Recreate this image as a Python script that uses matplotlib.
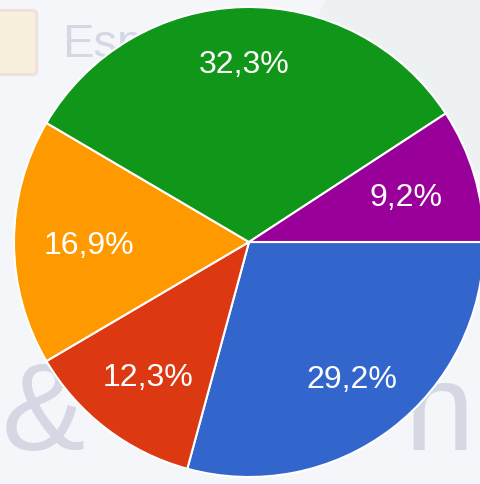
import matplotlib
matplotlib.use('Agg')
import matplotlib.pyplot as plt
from matplotlib.patches import FancyBboxPatch
import numpy as np

# slice data, clockwise from 3 o'clock
labels = ['29,2%', '12,3%', '16,9%', '32,3%', '9,2%']
values = [29.2, 12.3, 16.9, 32.3, 9.2]
colors = ['#3366cc', '#dc3912', '#ff9900', '#109618', '#990099']
# how far out each label sits (fraction of radius)
label_dist = [0.72, 0.71, 0.68, 0.77, 0.70]

W, H = 481, 484
cx, cy, r = 249, 242, 235  # pie centre and radius in pixels

fig = plt.figure(figsize=(W / 100, H / 100), dpi=100)
fig.patch.set_facecolor('#f4f6f9')
ax = fig.add_axes([0, 0, 1, 1])
ax.set_facecolor('#f4f6f9')


def px(x, y):
    # pixel position (from top-left) -> data coords
    return (x - cx) / r, (cy - y) / r


# faded background picture behind the chart
bg = dict(color='#d5d8e4', family='Liberation Sans', zorder=0)
ax.text(*px(62, 45), 'Esp', fontsize=34, va='center', ha='left', **bg)
ax.text(*px(2, 418), '&', fontsize=90, va='center', ha='left', **bg)
ax.text(*px(405, 418), 'n', fontsize=90, va='center', ha='left', **bg)
ax.add_patch(FancyBboxPatch(px(0, 70), 32 / r, 55 / r,
                            boxstyle='round,pad=0.02', fc='#f8f0dc', ec='#efe0dc',
                            lw=2, zorder=0))
ax.add_patch(plt.Circle(px(430, 60), 120 / r, fc='#eef1f1', ec='none', zorder=0))

wedges, _ = ax.pie(values, colors=colors, startangle=0, counterclock=False,
                   radius=1, wedgeprops=dict(edgecolor='white', linewidth=1.5))
for w in wedges:
    w.set_zorder(2)

start = 0.0
for lab, v, d in zip(labels, values, label_dist):
    mid = np.deg2rad(start - v / 100 * 360 / 2)
    start -= v / 100 * 360
    ax.text(d * np.cos(mid), d * np.sin(mid), lab, color='white', fontsize=23,
            family='Liberation Sans', ha='center', va='center_baseline', zorder=3)

ax.set_xlim(-cx / r, (W - cx) / r)
ax.set_ylim(-(H - cy) / r, cy / r)
ax.set_aspect('auto')
ax.axis('off')

fig.savefig('out.png', dpi=100, facecolor=fig.get_facecolor())
